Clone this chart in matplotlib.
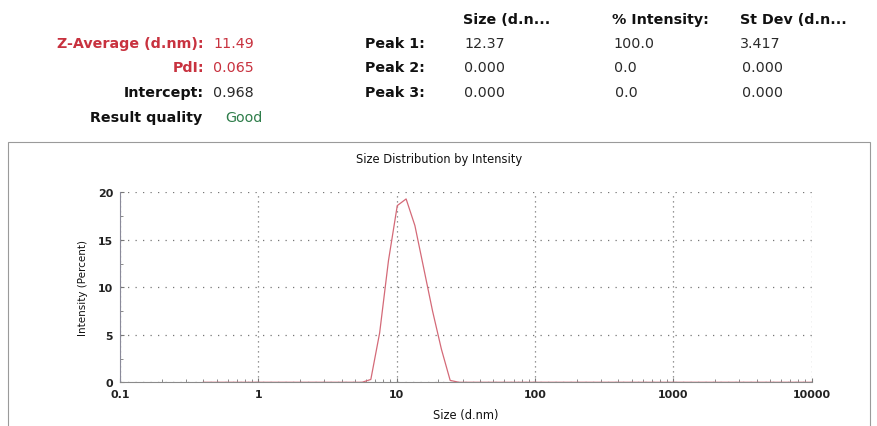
import matplotlib
matplotlib.use("Agg")
import matplotlib.pyplot as plt
from matplotlib.patches import Rectangle
from matplotlib.ticker import LogLocator, NullFormatter

# ---- data ----
sizes = [0.4, 0.4632, 0.5365, 0.6213, 0.7195, 0.8332, 0.9649, 1.117, 1.294, 1.499,
         1.736, 2.01, 2.328, 2.696, 3.122, 3.615, 4.187, 4.849, 5.615, 6.503,
         7.531, 8.721, 10.1, 11.7, 13.54, 15.69, 18.17, 21.04, 24.36, 28.21,
         32.67, 37.84, 43.82, 50.75, 58.77, 68.06, 78.82, 91.28, 105.7, 122.4,
         141.8, 164.2, 190.1, 220.2, 255.0, 295.3, 342.0, 396.1, 458.7, 531.2,
         615.1, 712.4, 825.0, 955.4, 1106, 1281, 1484, 1718, 1990, 2305,
         2669, 3091, 3580, 4145, 4801, 5560, 6439, 7456, 8635, 10000]
intensity = [0]*19 + [0.3, 5.2, 12.8, 18.6, 19.3, 16.5, 12.0, 7.5, 3.5, 0.2] + [0]*41

y_ticks = [0, 5, 10, 15, 20]
y_minor = [2.5, 7.5, 12.5, 17.5]
x_ticks = [0.1, 1, 10, 100, 1000, 10000]
x_tick_labels = ["0.1", "1", "10", "100", "1000", "10000"]

header_labels = ["Z-Average (d.nm):", "PdI:", "Intercept:"]
header_values = ["11.49", "0.065", "0.968"]
peak_labels = ["Peak 1:", "Peak 2:", "Peak 3:"]
col_headers = ["Size (d.n...", "% Intensity:", "St Dev (d.n..."]
peak_size = ["12.37", "0.000", "0.000"]
peak_int = ["100.0", "0.0", "0.0"]
peak_sd = ["3.417", "0.000", "0.000"]

W, H = 877, 427
fig = plt.figure(figsize=(W/100, H/100), dpi=100)
fig.patch.set_facecolor("white")

def fx(px): return px / W
def fy(py): return 1 - py / H

red = "#c8323f"
font = "DejaVu Sans"
LBL = 10.3
VAL = 10.3

# header texts
rows_y = [44, 68, 93]
label_colors = [red, red, "#111111"]
value_colors = [red, red, "#2a2a2a"]
for i in range(3):
    fig.text(fx(204), fy(rows_y[i]), header_labels[i], ha="right", va="center",
             fontsize=LBL, fontweight="bold", color=label_colors[i], family=font)
    fig.text(fx(213), fy(rows_y[i]), header_values[i], ha="left", va="center",
             fontsize=VAL, color=value_colors[i], family=font)
fig.text(fx(202), fy(118), "Result quality", ha="right", va="center",
         fontsize=LBL, fontweight="bold", color="#111111", family=font)
fig.text(fx(225), fy(118), "Good", ha="left", va="center",
         fontsize=VAL, color="#2e7d4a", family=font)

col_x = [463, 612, 740]
for j in range(3):
    fig.text(fx(col_x[j]), fy(20), col_headers[j], ha="left", va="center",
             fontsize=LBL, fontweight="bold", color="#111111", family=font)
peak_val_x = [[464, 613, 740], [464, 614, 742], [464, 615, 742]]
for i in range(3):
    fig.text(fx(425), fy(rows_y[i]), peak_labels[i], ha="right", va="center",
             fontsize=LBL, fontweight="bold", color="#111111", family=font)
    vals = [peak_size[i], peak_int[i], peak_sd[i]]
    for j in range(3):
        fig.text(fx(peak_val_x[i][j]), fy(rows_y[i]), vals[j], ha="left", va="center",
                 fontsize=VAL, color="#2a2a2a", family=font)

# chart frame
fig.patches.append(Rectangle((fx(8), fy(440)), fx(862), fy(143) - fy(440),
                             transform=fig.transFigure, fill=False,
                             edgecolor="#9a9a9a", linewidth=0.8))
fig.text(fx(439), fy(160), "Size Distribution by Intensity", ha="center", va="center",
         fontsize=8.3, color="#111111", family=font)

ax = fig.add_axes([fx(120), fy(383.3), fx(811.7) - fx(120), fy(193.3) - fy(383.3)])
ax.plot(sizes, intensity, color="#d46a78", linewidth=0.9)
ax.set_xscale("log")
ax.set_xlim(0.1, 10000)
ax.set_ylim(0, 20)
ax.set_xticks(x_ticks)
ax.set_xticklabels(x_tick_labels)
ax.xaxis.set_minor_locator(LogLocator(base=10, subs=range(2, 10)))
ax.xaxis.set_minor_formatter(NullFormatter())
ax.set_yticks(y_ticks)
ax.set_yticks(y_minor, minor=True)
ax.grid(True, which="major", axis="y", linestyle=(0, (1, 5)), color="#777777", linewidth=0.9)
ax.grid(True, which="major", axis="x", linestyle=(0, (1, 3)), color="#777777", linewidth=0.9)
for s in ["top", "right"]:
    ax.spines[s].set_visible(False)
ax.spines["left"].set_color("#8a8a9a")
ax.spines["bottom"].set_color("#8a8a8a")
ax.spines["left"].set_linewidth(0.8)
ax.spines["bottom"].set_linewidth(0.8)
ax.tick_params(axis="both", which="major", direction="in", length=3, color="#777777",
               labelsize=7.9, labelcolor="#222222")
ax.tick_params(axis="both", which="minor", direction="in", length=2, color="#777777")
for lab in ax.get_xticklabels() + ax.get_yticklabels():
    lab.set_family(font)
    lab.set_fontweight("bold")
ax.tick_params(axis="x", pad=5)
ax.tick_params(axis="y", pad=5)
ax.set_xlabel("Size (d.nm)", fontsize=8.3, family=font, labelpad=6, color="#111111")
ax.set_ylabel("Intensity (Percent)", fontsize=7.5, family=font, labelpad=7, color="#111111")
ax.set_facecolor("white")

fig.savefig("out.png", dpi=100, facecolor="white")
